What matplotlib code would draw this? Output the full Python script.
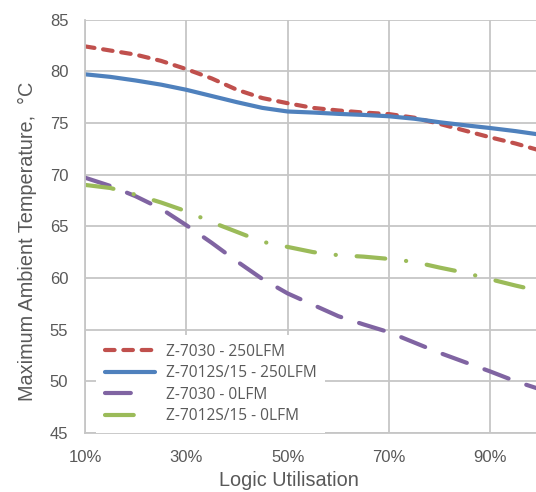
import matplotlib
matplotlib.use("Agg")
import matplotlib.pyplot as plt
from matplotlib.legend_handler import HandlerLine2D
from matplotlib.ticker import FixedLocator, FuncFormatter

plt.rcParams["font.family"] = ["Liberation Sans", "DejaVu Sans"]

# ---- data ----
utilisation = [10, 15, 20, 25, 30, 35, 40, 45, 50, 55, 60, 65, 70, 75, 80, 85, 90, 95, 100]
z7030_250 = [82.4, 82.0, 81.6, 81.0, 80.2, 79.3, 78.2, 77.4, 76.9, 76.45, 76.2, 76.0, 75.85,
             75.5, 74.9, 74.25, 73.6, 73.0, 72.3]
z7012_250 = [79.7, 79.45, 79.1, 78.7, 78.2, 77.6, 77.0, 76.45, 76.1, 76.0, 75.87, 75.77, 75.64,
             75.4, 75.06, 74.77, 74.5, 74.2, 73.85]
z7030_0 = [69.7, 68.9, 67.9, 66.7, 65.1, 63.4, 61.6, 59.9, 58.5, 57.4, 56.3, 55.5, 54.75,
           53.75, 52.75, 51.85, 50.95, 50.0, 49.2]
z7012_0 = [69.0, 68.7, 68.05, 67.3, 66.45, 65.4, 64.45, 63.5, 63.0, 62.5, 62.2, 62.06, 61.84,
           61.55, 61.0, 60.5, 59.87, 59.26, 58.7]
series_labels = ["Z-7030 - 250LFM", "Z-7012S/15 - 250LFM", "Z-7030 - 0LFM", "Z-7012S/15 - 0LFM"]
x_ticks = [10, 30, 50, 70, 90]
y_ticks = [45, 50, 55, 60, 65, 70, 75, 80, 85]

TXT = "#595959"
GRID = "#c6c6c6"

fig = plt.figure(figsize=(5.36, 4.92), dpi=100)
W, H = 536, 492
left_px, right_px, top_px, bot_px = 85, 541, 19.5, 433
ax = fig.add_axes([left_px / W, 1 - bot_px / H, (right_px - left_px) / W, (bot_px - top_px) / H])

lw = 3.0
l1, = ax.plot(utilisation, z7030_250, color="#C0504D", lw=lw, dashes=(2.3, 2.1),
              dash_capstyle="round", solid_capstyle="round", label=series_labels[0])
l2, = ax.plot(utilisation, z7012_250, color="#4F81BD", lw=lw,
              solid_capstyle="round", label=series_labels[1])
l3, = ax.plot(utilisation, z7030_0, color="#8064A2", lw=lw, dashes=(6.2, 4.5),
              dash_capstyle="round", label=series_labels[2])
l4, = ax.plot(utilisation, z7012_0, color="#9BBB59", lw=lw, dashes=(6.9, 5.0, 0.05, 5.0),
              dash_capstyle="round", label=series_labels[3])

ax.set_xlim(10, 100)
ax.set_ylim(45, 85)
ax.xaxis.set_major_locator(FixedLocator(x_ticks))
ax.yaxis.set_major_locator(FixedLocator(y_ticks))
ax.xaxis.set_major_formatter(FuncFormatter(lambda v, p: f"{v:.0f}%"))
ax.grid(True, color=GRID, lw=1.3)
ax.set_axisbelow(True)
for s in ["top", "right"]:
    ax.spines[s].set_visible(False)
for s in ["left", "bottom"]:
    ax.spines[s].set_color(GRID)
    ax.spines[s].set_linewidth(1.3)
ax.tick_params(length=0, labelsize=12, labelcolor=TXT, pad=12)

ax.set_ylabel("Maximum Ambient Temperature,  °C", fontsize=14.3, color=TXT)
ax.set_xlabel("Logic Utilisation", fontsize=14.3, color=TXT)
ax.yaxis.set_label_coords(-0.105, 0.464)
ax.xaxis.set_label_coords(0.447, -0.093)


class ShortHandler(HandlerLine2D):
    def __init__(self, frac, **kw):
        super().__init__(**kw)
        self.frac = frac

    def create_artists(self, legend, orig_handle, xdescent, ydescent, width, height, fontsize, trans):
        return super().create_artists(legend, orig_handle, xdescent, ydescent,
                                      width * self.frac, height, fontsize, trans)


leg = ax.legend(handles=[l1, l2, l3, l4], loc="lower left", bbox_to_anchor=(11 / 456, 0.0),
                prop={"family": "Open Sans", "size": 11.2}, labelcolor=TXT,
                frameon=True, framealpha=1, edgecolor="none", facecolor="white",
                fancybox=False, handlelength=3.25, handletextpad=0.7,
                labelspacing=0.36, borderpad=0.55, borderaxespad=0.0,
                handler_map={l3: ShortHandler(0.7), l4: ShortHandler(0.7)})
leg.get_frame().set_linewidth(0)

fig.savefig("out.png", dpi=100)
